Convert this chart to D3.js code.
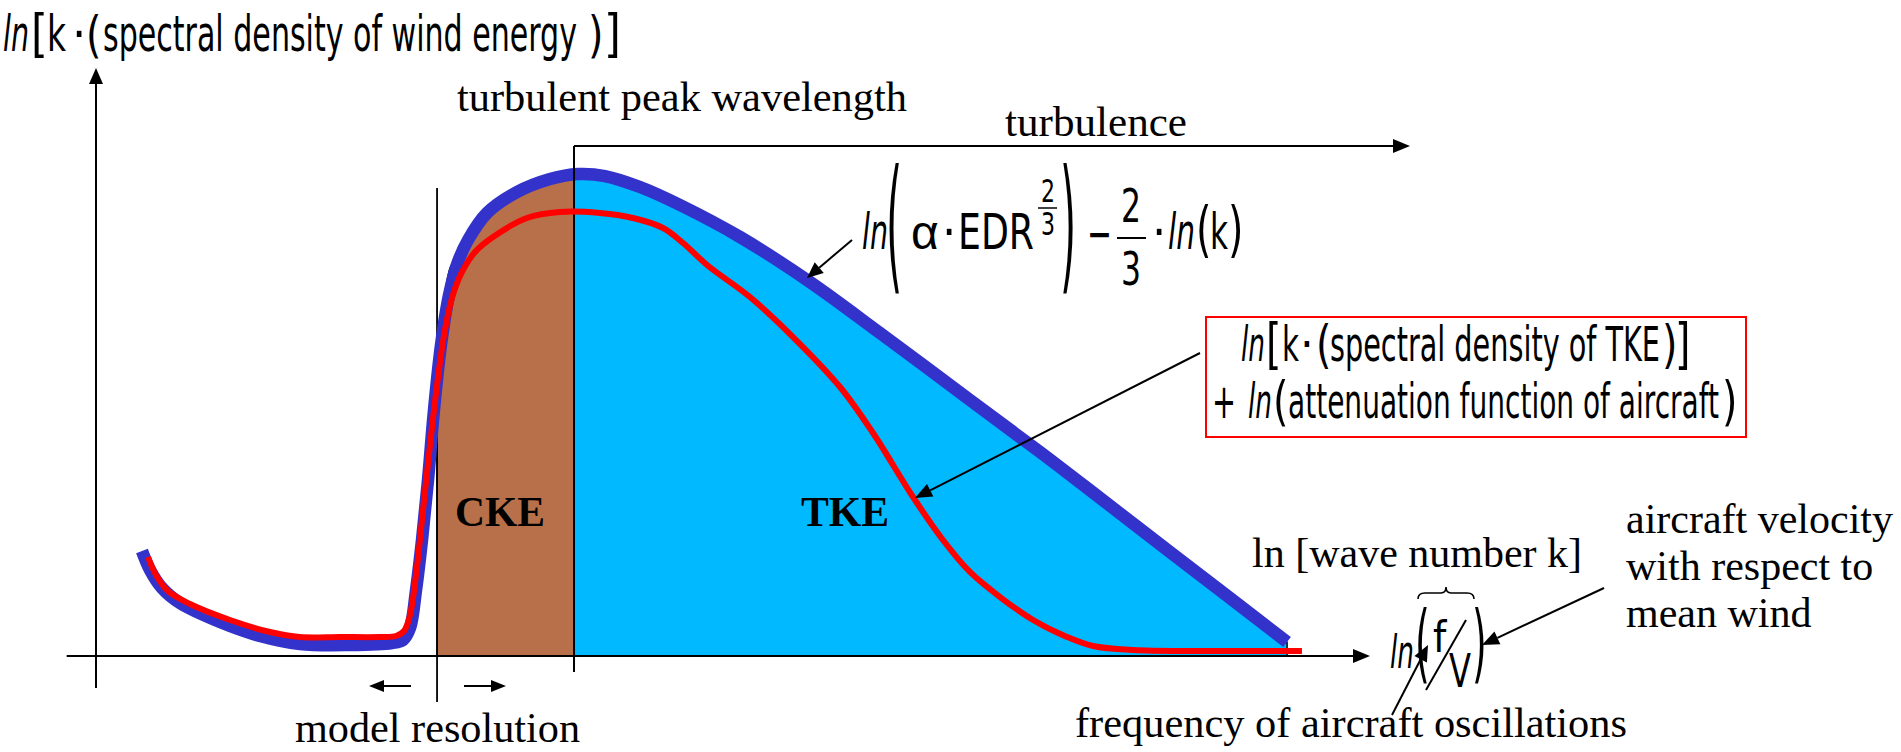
<!DOCTYPE html>
<html>
<head>
<meta charset="utf-8">
<script src="https://cdn.jsdelivr.net/npm/d3@7"></script>
<style>
  html, body { margin: 0; padding: 0; background: #ffffff; overflow: hidden; }
  svg { display: block; }
</style>
</head>
<body>
<svg id="chart" width="1901" height="752"></svg>
<script>
// Schematic wind-energy spectrum, both axes in arbitrary units (0–100).
// ln k along the horizontal axis, ln[k·E(k)] along the vertical axis.

// Spectral density of wind energy (thick blue curve)
const windK = [3.61, 4.24, 5.18, 6.59, 9.73, 12.87, 16.01, 19.94, 23.23, 24.10, 24.65, 25.12,
  25.59, 26.06, 26.53, 27.08, 27.71, 28.41, 29.20, 30.69, 33.05, 35.64, 37.83, 39.95, 42.70,
  45.84, 50.55, 56.04, 61.54, 68.60, 74.10, 78.81, 84.30, 89.01, 93.49];
const windEnergy = [17.86, 14.63, 11.56, 9.01, 5.78, 3.40, 2.04, 1.87, 2.21, 2.72, 4.76, 11.22,
  19.73, 29.93, 41.84, 52.89, 61.39, 67.01, 70.75, 75.34, 78.91, 81.12, 81.97, 81.63, 79.76,
  76.70, 71.26, 63.61, 54.93, 43.54, 34.69, 26.87, 17.69, 9.86, 2.38];

// Spectral density of TKE plus aircraft attenuation (red curve)
const tkeK = [4.08, 4.71, 5.65, 7.38, 10.52, 13.66, 16.01, 19.15, 22.29, 23.55, 24.18, 24.65,
  25.12, 25.67, 26.22, 26.77, 27.32, 27.94, 28.73, 29.75, 31.16, 33.83, 36.42, 39.56, 42.15,
  44.51, 46.08, 47.96, 51.33, 54.71, 58.40, 60.99, 64.13, 66.48, 68.60, 70.96, 73.55, 76.22,
  78.26, 81.40, 86.66, 94.66];
const tkeEnergy = [16.84, 13.78, 11.05, 8.84, 6.12, 4.08, 3.23, 3.23, 3.23, 3.40, 4.25, 6.97,
  13.78, 24.83, 35.88, 46.09, 54.59, 60.88, 65.31, 68.71, 71.26, 74.49, 75.51, 75.34, 74.49,
  72.79, 70.24, 66.50, 61.05, 54.25, 45.75, 37.93, 27.04, 19.73, 14.29, 10.03, 6.12, 3.23,
  1.70, 1.02, 0.85, 0.85];

// Upper edge of the convective (CKE) band, model resolution -> turbulent peak
const ckeTopK = [26.77, 27.79, 28.49, 29.20, 30.69, 33.05, 35.64, 37.52];
const ckeTopE = [48.30, 65.99, 68.37, 70.75, 75.34, 78.91, 81.12, 81.89];

// Upper edge of the turbulent (TKE) band, turbulent peak -> end of spectrum
const tkeTopK = [37.52, 37.83, 39.95, 42.70, 45.84, 50.55, 56.04, 61.54, 68.60, 74.10, 78.81,
  84.30, 89.01, 93.49];
const tkeTopE = [81.89, 81.97, 81.63, 79.76, 76.70, 71.26, 63.61, 54.93, 43.54, 34.69, 26.87,
  17.69, 9.86, 2.38];

const modelResolutionK = 26.77;   // model resolution wave number
const peakK = 37.52;              // turbulent peak wavelength
const turbulenceTopE = 86.73;     // level of the "turbulence" range arrow
const turbulenceEndK = 103.14;

const SERIF = "'Liberation Serif','Times New Roman',Times,serif";
const NARROW = "'Liberation Sans Narrow','Arial Narrow','DejaVu Sans Condensed',sans-serif";
const SANS = "'Liberation Sans',Arial,sans-serif";

const svg = d3.select('#chart');
const x = d3.scaleLinear().domain([0, 100]).range([96, 1370]);
const y = d3.scaleLinear().domain([0, 100]).range([656, 68]);

const pts = (ks, es) => ks.map((k, i) => [k, es[i]]);
const smooth = d3.curveCatmullRom.alpha(0.5);

// ---- filled energy bands ----
const band = d3.area().x(d => x(d[0])).y0(y(0)).y1(d => y(d[1])).curve(smooth);
svg.append('path').datum(pts(ckeTopK, ckeTopE)).attr('d', band)
  .attr('fill', '#B8704A').attr('stroke', '#000').attr('stroke-width', 1.5);
svg.append('path').datum(pts(tkeTopK, tkeTopE)).attr('d', band)
  .attr('fill', '#00B9FF').attr('stroke', '#000').attr('stroke-width', 1.5);

// ---- arrow helper ----
function arrow(x1, y1, x2, y2, len = 16, half = 7, w = 2) {
  const a = Math.atan2(y2 - y1, x2 - x1);
  const bx = x2 - len * Math.cos(a), by = y2 - len * Math.sin(a);
  svg.append('line').attr('x1', x1).attr('y1', y1).attr('x2', bx).attr('y2', by)
    .attr('stroke', '#000').attr('stroke-width', w);
  const p = [[x2, y2],
    [bx + half * Math.sin(a), by - half * Math.cos(a)],
    [bx - half * Math.sin(a), by + half * Math.cos(a)]];
  svg.append('polygon').attr('points', p.map(q => q.join(',')).join(' ')).attr('fill', '#000');
}

// ---- axes ----
arrow(x(-2.3), y(0), x(100), y(0), 17, 7, 2);
arrow(x(0), 688, x(0), y(100), 16, 7, 2);

// model resolution marker
svg.append('line').attr('x1', x(modelResolutionK)).attr('x2', x(modelResolutionK))
  .attr('y1', 188).attr('y2', 702).attr('stroke', '#000').attr('stroke-width', 1.8);
arrow(411, 686, 369, 686, 15, 6, 2);
arrow(464, 686, 506, 686, 15, 6, 2);

// ---- spectra ----
const line = d3.line().x(d => x(d[0])).y(d => y(d[1])).curve(smooth);
svg.append('path').datum(pts(windK, windEnergy)).attr('d', line)
  .attr('fill', 'none').attr('stroke', '#3333CC').attr('stroke-width', 12.5)
  .attr('stroke-linejoin', 'round');

// turbulent peak marker and turbulence range
svg.append('line').attr('x1', x(peakK)).attr('x2', x(peakK))
  .attr('y1', y(turbulenceTopE)).attr('y2', 672).attr('stroke', '#000').attr('stroke-width', 2);
arrow(x(peakK), y(turbulenceTopE), x(turbulenceEndK), y(turbulenceTopE), 17, 7, 2);

svg.append('path').datum(pts(tkeK, tkeEnergy)).attr('d', line)
  .attr('fill', 'none').attr('stroke', '#FF0000').attr('stroke-width', 6)
  .attr('stroke-linejoin', 'round');

// ---- text helpers ----
function txt(str, x0, base, opt = {}) {
  const t = svg.append('text').attr('x', x0).attr('y', base)
    .attr('font-family', opt.family || NARROW)
    .attr('font-size', opt.size || 48)
    .attr('fill', '#000')
    .text(str);
  if (opt.italic) t.attr('font-style', 'italic');
  if (opt.bold) t.attr('font-weight', 'bold');
  if (opt.len) t.attr('textLength', opt.len).attr('lengthAdjust', 'spacingAndGlyphs');
  return t;
}
// tall delimiter stretched between top and bottom
function delim(ch, x0, top, bottom, size = 44) {
  const s = (bottom - top) / (0.94 * size);
  const base = top + 0.73 * size * s;
  svg.append('text')
    .attr('transform', `translate(${x0},${base}) scale(1,${s})`)
    .attr('font-family', NARROW).attr('font-size', size).attr('fill', '#000')
    .text(ch);
}
function rule(x1, x2, yy, w = 1.6) {
  svg.append('line').attr('x1', x1).attr('x2', x2).attr('y1', yy).attr('y2', yy)
    .attr('stroke', '#000').attr('stroke-width', w);
}

// ---- vertical axis title ----
txt('ln', 3, 51, { italic: true, len: 26, size: 50 });
delim('[', 31, 14, 62, 48);
txt('k', 47, 51, { len: 19, size: 50 });
txt('·', 72, 51, { size: 50 });
delim('(', 86, 15, 62);
txt('spectral density of wind energy', 103, 51, { len: 474, size: 50 });
delim(')', 588, 15, 62);
delim(']', 604, 14, 62, 48);

// ---- serif labels ----
txt('turbulent peak wavelength', 457, 111, { family: SERIF, size: 42, len: 450 });
txt('turbulence', 1005, 136, { family: SERIF, size: 42, len: 182 });
txt('CKE', 455, 526, { family: SERIF, size: 42, bold: true, len: 90 });
txt('TKE', 801, 526, { family: SERIF, size: 42, bold: true, len: 88 });
txt('model resolution', 295, 742, { family: SERIF, size: 42, len: 285 });
txt('ln [wave number k]', 1252, 567, { family: SERIF, size: 42 });
txt('aircraft velocity', 1626, 533, { family: SERIF, size: 42 });
txt('with respect to', 1626, 580, { family: SERIF, size: 42 });
txt('mean wind', 1626, 627, { family: SERIF, size: 42 });
txt('frequency of aircraft oscillations', 1075, 737, { family: SERIF, size: 42, len: 552 });

// ---- inertial subrange formula ----
txt('ln', 862, 249, { italic: true, len: 26, size: 50 });
delim('(', 886, 168, 305, 46);
txt('α', 911, 249, { family: SANS, size: 48 });
txt('·', 942, 249, { size: 50 });
txt('EDR', 958, 249, { len: 76, size: 50 });
txt('2', 1041, 202, { size: 32, len: 14 });
rule(1038, 1057, 208, 1.5);
txt('3', 1041, 235, { size: 32, len: 14 });
delim(')', 1060, 168, 305, 46);
txt('−', 1087, 251, { len: 25, size: 50 });
txt('2', 1121, 222, { size: 46, len: 20 });
rule(1117, 1146, 238, 2);
txt('3', 1121, 285, { size: 46, len: 20 });
txt('·', 1152, 249, { size: 50 });
txt('ln', 1168, 249, { italic: true, len: 27, size: 50 });
delim('(', 1196, 206, 263);
txt('k', 1210, 249, { len: 18, size: 50 });
delim(')', 1228, 206, 263);
arrow(852, 240, 807, 278, 16, 7, 2);

// ---- boxed expression ----
svg.append('rect').attr('x', 1206).attr('y', 317).attr('width', 540).attr('height', 120)
  .attr('fill', '#fff').attr('stroke', '#FF0000').attr('stroke-width', 2);
txt('ln', 1241, 361, { italic: true, len: 24 });
delim('[', 1266, 323, 374);
txt('k', 1282, 361, { len: 17 });
txt('·', 1300, 361);
delim('(', 1316, 325, 373);
txt('spectral density of TKE', 1330, 361, { len: 330 });
delim(')', 1662, 325, 373);
delim(']', 1675, 323, 374);
txt('+', 1212, 418, { len: 24 });
txt('ln', 1248, 418, { italic: true, len: 24 });
delim('(', 1273, 381, 431);
txt('attenuation function of aircraft', 1288, 418, { len: 431 });
delim(')', 1722, 381, 431);
arrow(1200, 353, 915, 498, 17, 7, 2);

// ---- ln(f / V) ----
txt('ln', 1390, 668, { italic: true, len: 24, size: 46 });
delim('(', 1415, 610, 690, 42);
txt('f', 1433, 652, { size: 42 });
svg.append('line').attr('x1', 1466).attr('y1', 620).attr('x2', 1426).attr('y2', 690)
  .attr('stroke', '#000').attr('stroke-width', 2);
txt('V', 1449, 687, { size: 46, len: 22 });
delim(')', 1472, 610, 690, 42);
svg.append('path')
  .attr('d', 'M1418,599 Q1418,593 1425,593 L1441,593 Q1446,593 1446,587 Q1446,593 1451,593 L1467,593 Q1474,593 1474,599')
  .attr('fill', 'none').attr('stroke', '#000').attr('stroke-width', 1.6);
arrow(1392, 715, 1428, 645, 16, 7, 2);
arrow(1604, 588, 1482, 645, 17, 7, 2);
</script>
</body>
</html>
